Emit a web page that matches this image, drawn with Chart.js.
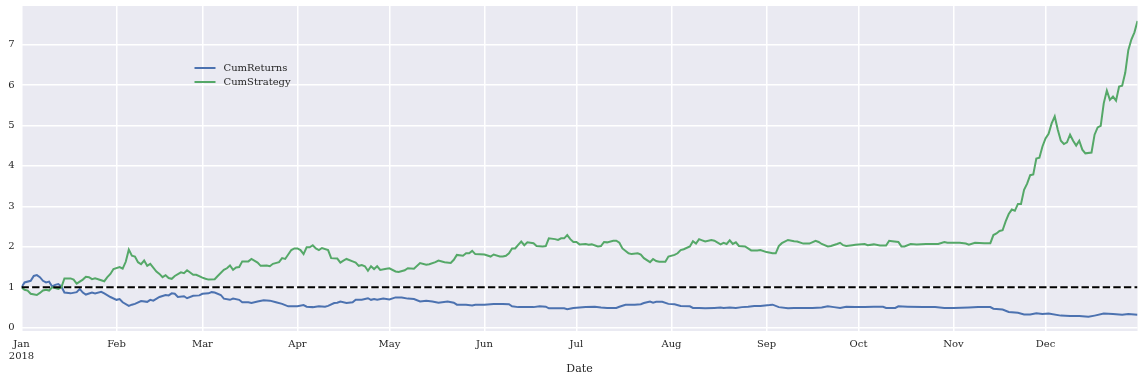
<!DOCTYPE html>
<html>
<head>
<meta charset="utf-8">
<script src="https://cdn.jsdelivr.net/npm/chart.js@4.4.1/dist/chart.umd.min.js"></script>
<style>
  html, body { margin: 0; padding: 0; background: #fff; }
  #countiner { width: 1143px; height: 380px; position: relative; }
</style>
</head>
<body>
<div id="countiner"><canvas id="myChart"></canvas></div>
<script>
'use strict'
// x values are days of 2018, 0 = Jan 1
let monthStarts = [0, 31, 59, 90, 120, 151, 181, 212, 243, 273, 304, 334];
let monthLabels = ['Jan', 'Feb', 'Mar', 'Apr', 'May', 'Jun', 'Jul', 'Aug', 'Sep', 'Oct', 'Nov', 'Dec'];
let yearLabel = '2018';
let yTicks = [0, 1, 2, 3, 4, 5, 6, 7];

let retDays = [0, 1, 3, 4, 5, 6, 7, 8, 9, 10, 11, 12, 13, 14, 16, 18, 19, 20, 21, 23, 24, 26, 27, 29, 31, 32, 33, 35, 36, 37, 39, 41, 42, 43, 45, 47, 48, 49, 50,
  51, 53, 54, 56, 58, 59, 61, 62, 63, 65, 66, 68, 69, 71, 72, 74, 75, 77, 79, 81, 83, 85, 87, 90, 92, 93, 95, 97, 99, 100, 102, 103,
  104, 106, 108, 109, 111, 113, 114, 115, 116, 118, 120, 122, 124, 126, 128, 130, 132, 134, 136, 139, 141, 142, 145, 147, 148, 151, 154, 157,
  159, 160, 162, 164, 167, 169, 171, 172, 175, 177, 178, 180, 182, 184, 187, 189, 191, 194, 195, 197, 200, 202, 203, 205, 206,
  207, 209, 211, 213, 215, 218, 219, 221, 223, 226, 228, 229, 231, 233, 235, 237, 239, 241, 244, 245, 247, 250, 252, 255, 258,
  261, 263, 265, 267, 269, 272, 275, 278, 281, 282, 285, 286, 289, 294, 298, 301, 304, 309,
  312, 316, 317, 320, 322, 325, 327, 329, 331, 333, 335, 339, 342, 345, 348, 350, 353, 356, 359, 361, 364];
let retValues = [1.00, 1.12, 1.16, 1.28, 1.30, 1.25, 1.16, 1.12, 1.14, 1.02, 1.06, 1.08, 1.02, 0.87, 0.85, 0.88, 0.96, 0.87, 0.82, 0.87, 0.85, 0.89, 0.85, 0.76, 0.69, 0.71, 0.63, 0.54, 0.57, 0.59, 0.66, 0.64, 0.69, 0.67, 0.76, 0.81, 0.80, 0.85, 0.84,
  0.76, 0.78, 0.73, 0.79, 0.80, 0.84, 0.85, 0.88, 0.87, 0.81, 0.72, 0.69, 0.72, 0.69, 0.63, 0.63, 0.61, 0.65, 0.68, 0.67, 0.63, 0.59, 0.53, 0.53, 0.56, 0.52, 0.51, 0.53, 0.52, 0.54, 0.61, 0.62,
  0.65, 0.61, 0.63, 0.69, 0.69, 0.73, 0.69, 0.71, 0.69, 0.72, 0.70, 0.75, 0.75, 0.72, 0.71, 0.65, 0.67, 0.65, 0.62, 0.65, 0.62, 0.57, 0.57, 0.55, 0.57, 0.57, 0.59, 0.59,
  0.58, 0.53, 0.51, 0.51, 0.51, 0.53, 0.52, 0.48, 0.48, 0.48, 0.46, 0.49, 0.50, 0.51, 0.52, 0.50, 0.49, 0.49, 0.52, 0.57, 0.57, 0.58, 0.61, 0.65, 0.62,
  0.64, 0.64, 0.59, 0.58, 0.54, 0.53, 0.49, 0.49, 0.48, 0.49, 0.50, 0.49, 0.50, 0.49, 0.51, 0.52, 0.54, 0.54, 0.56, 0.57, 0.51, 0.48, 0.49, 0.49, 0.49,
  0.50, 0.53, 0.51, 0.49, 0.52, 0.51, 0.51, 0.52, 0.52, 0.49, 0.49, 0.53, 0.52, 0.51, 0.51, 0.49, 0.49, 0.50,
  0.51, 0.51, 0.47, 0.45, 0.39, 0.37, 0.33, 0.33, 0.36, 0.34, 0.35, 0.30, 0.29, 0.29, 0.27, 0.30, 0.35, 0.34, 0.32, 0.34, 0.32];

let stratDays = [0, 1, 2, 3, 5, 6, 7, 8, 9, 10, 11, 12, 13, 14, 16, 17, 18, 20, 21, 22, 23, 24, 25, 27, 28, 29, 30, 32, 33, 34, 35, 36, 37, 38, 39, 40, 41, 42, 44, 45, 46, 47, 48, 49, 50,
  52, 53, 54, 56, 57, 59, 60, 61, 63, 64, 66, 67, 68, 69, 70, 71, 72, 74, 75, 77, 78, 80, 81, 82, 84, 85, 86, 88, 89, 90, 91, 92, 93, 94, 95, 96, 97, 98, 100, 101, 103,
  104, 105, 106, 108, 109, 110, 111, 112, 113, 114, 115, 116, 117, 119, 120, 122, 123, 125, 126, 128, 130, 132, 133, 135, 136, 138, 140, 141, 142, 144, 145, 146, 147, 148, 151, 153, 154, 156,
  157, 158, 159, 160, 161, 162, 163, 164, 165, 167, 168, 170, 171, 172, 174, 175, 176, 177, 178, 179, 180, 181, 182, 184, 185, 186, 188, 189, 190, 191, 193, 194, 195, 196, 198, 199, 201, 202, 203, 205, 206,
  207, 208, 210, 211, 213, 214, 215, 216, 218, 219, 220, 221, 222, 223, 225, 226, 228, 229, 230, 231, 232, 233, 234, 236, 238, 240, 241, 243, 245, 246, 247, 248, 250, 252, 253, 255, 257, 259, 260,
  261, 263, 264, 266, 267, 268, 269, 271, 272, 275, 276, 278, 280, 282, 283, 284, 286, 287, 288, 290, 292, 295, 297, 299, 301, 302, 304,
  306, 308, 309, 311, 314, 316, 317, 318, 319, 320, 321, 322, 323, 324, 325, 326, 327, 328, 329, 330, 331, 332, 333, 334, 335, 336, 337, 338, 339, 340,
  341, 342, 343, 344, 345, 346, 347, 349, 350, 351, 352, 353, 354, 355, 356, 357, 358, 359, 360, 361, 362, 363, 364];
let stratValues = [1.00, 0.94, 0.92, 0.84, 0.81, 0.86, 0.92, 0.94, 0.92, 1.00, 0.98, 0.96, 1.00, 1.22, 1.22, 1.19, 1.09, 1.19, 1.26, 1.25, 1.20, 1.22, 1.20, 1.15, 1.25, 1.33, 1.45, 1.50, 1.46, 1.63, 1.93, 1.78, 1.76, 1.62, 1.57, 1.66, 1.53, 1.58, 1.39, 1.33, 1.25, 1.30, 1.23, 1.21, 1.28,
  1.37, 1.35, 1.42, 1.31, 1.31, 1.24, 1.21, 1.19, 1.20, 1.28, 1.43, 1.47, 1.54, 1.43, 1.49, 1.50, 1.64, 1.64, 1.70, 1.61, 1.53, 1.54, 1.52, 1.58, 1.62, 1.72, 1.70, 1.92, 1.96, 1.96, 1.92, 1.82, 1.99, 1.99, 2.04, 1.96, 1.92, 1.97, 1.92, 1.72, 1.71,
  1.61, 1.66, 1.70, 1.64, 1.61, 1.53, 1.55, 1.52, 1.41, 1.52, 1.45, 1.52, 1.43, 1.46, 1.47, 1.39, 1.38, 1.42, 1.47, 1.46, 1.60, 1.56, 1.57, 1.62, 1.66, 1.62, 1.60, 1.68, 1.80, 1.78, 1.84, 1.84, 1.90, 1.82, 1.81, 1.76, 1.81, 1.76,
  1.76, 1.78, 1.84, 1.96, 1.96, 2.05, 2.13, 2.04, 2.11, 2.09, 2.02, 2.01, 2.02, 2.21, 2.19, 2.17, 2.21, 2.21, 2.29, 2.19, 2.12, 2.12, 2.06, 2.07, 2.05, 2.06, 2.01, 2.02, 2.12, 2.11, 2.15, 2.15, 2.10, 1.96, 1.84, 1.82, 1.84, 1.81, 1.72, 1.62, 1.70,
  1.65, 1.63, 1.63, 1.76, 1.80, 1.84, 1.92, 1.94, 2.01, 2.14, 2.08, 2.19, 2.16, 2.13, 2.17, 2.15, 2.06, 2.10, 2.07, 2.16, 2.07, 2.11, 2.02, 2.01, 1.91, 1.91, 1.92, 1.87, 1.84, 1.84, 2.02, 2.09, 2.17, 2.14, 2.13, 2.08, 2.08, 2.15, 2.12,
  2.07, 2.01, 2.02, 2.07, 2.10, 2.04, 2.02, 2.04, 2.05, 2.07, 2.04, 2.06, 2.03, 2.03, 2.15, 2.14, 2.12, 2.01, 2.01, 2.07, 2.06, 2.07, 2.07, 2.07, 2.12, 2.10, 2.10,
  2.10, 2.08, 2.05, 2.10, 2.09, 2.09, 2.29, 2.33, 2.39, 2.41, 2.63, 2.81, 2.92, 2.89, 3.06, 3.06, 3.41, 3.56, 3.77, 3.79, 4.18, 4.20, 4.48, 4.68, 4.79, 5.05, 5.22, 4.89, 4.62, 4.54,
  4.58, 4.77, 4.62, 4.50, 4.62, 4.40, 4.31, 4.33, 4.77, 4.95, 4.99, 5.55, 5.86, 5.63, 5.71, 5.61, 5.96, 5.98, 6.30, 6.86, 7.12, 7.30, 7.58];

let baseDays = [0, 364];
let baseValues = [1, 1];

function topoints(days, vals) {
    return days.map(function (d, i) { return { x: d, y: vals[i] }; });
}

let textColor = '#262626';
let serif = "'DejaVu Serif', serif";

let backPlugin = {
    id: 'backPlugin',
    beforeDraw(chart) {
        let ctx = chart.ctx;
        let a = chart.chartArea;
        ctx.save();
        ctx.fillStyle = '#ffffff';
        ctx.fillRect(0, 0, chart.width, chart.height);
        ctx.fillStyle = '#EAEAF2';
        ctx.fillRect(a.left, a.top, a.right - a.left, a.bottom - a.top);
        ctx.restore();
    }
};

// legend sits inside the axes, no frame
let legendPlugin = {
    id: 'legendPlugin',
    afterDatasetsDraw(chart) {
        let ctx = chart.ctx;
        let x0 = chart.chartArea.left + 173;
        let y = chart.chartArea.top + 62;
        ctx.save();
        ctx.font = '10px ' + serif;
        ctx.textBaseline = 'middle';
        ctx.textAlign = 'left';
        chart.data.datasets.forEach(function (ds) {
            if (!ds.label) return;
            ctx.strokeStyle = ds.borderColor;
            ctx.lineWidth = ds.borderWidth;
            ctx.beginPath();
            ctx.moveTo(x0, y);
            ctx.lineTo(x0 + 21, y);
            ctx.stroke();
            ctx.fillStyle = textColor;
            ctx.fillText(ds.label, x0 + 29, y);
            y += 14;
        });
        ctx.restore();
    }
};

let ctx = document.getElementById('myChart').getContext('2d');
let myChart = new Chart(ctx, {
    type: 'line',
    data: {
        datasets: [{
            label: 'CumReturns',
            data: topoints(retDays, retValues),
            borderColor: '#4C72B0',
            borderWidth: 2,
            pointRadius: 0,
            tension: 0,
            order: 2
        },
        {
            label: 'CumStrategy',
            data: topoints(stratDays, stratValues),
            borderColor: '#55A868',
            borderWidth: 2,
            pointRadius: 0,
            tension: 0,
            order: 1
        },
        {
            label: '',
            data: topoints(baseDays, baseValues),
            borderColor: '#000000',
            borderWidth: 2,
            borderDash: [7.4, 3.2],
            pointRadius: 0,
            order: 0
        }]
    },
    options: {
        responsive: true,
        maintainAspectRatio: false,
        animation: false,
        devicePixelRatio: 1,
        layout: { padding: { left: 0, right: 5.5, top: 6, bottom: 0 } },
        plugins: {
            legend: { display: false },
            tooltip: { enabled: false }
        },
        scales: {
            x: {
                type: 'linear',
                min: 0,
                max: 364,
                afterBuildTicks: function (axis) {
                    axis.ticks = monthStarts.map(function (v) { return { value: v }; });
                },
                afterFit: function (axis) {
                    axis.height = 49;
                    axis.paddingLeft = 0;
                    axis.paddingRight = 0;
                },
                grid: { color: '#ffffff', lineWidth: 1.5, drawTicks: false },
                border: { display: false },
                ticks: {
                    autoSkip: false,
                    maxRotation: 0,
                    padding: 8,
                    color: textColor,
                    font: { family: serif, size: 10, lineHeight: 1.15 },
                    callback: function (value) {
                        let i = monthStarts.indexOf(value);
                        return i === 0 ? [monthLabels[0], yearLabel] : monthLabels[i];
                    }
                },
                title: {
                    display: true,
                    text: 'Date',
                    color: textColor,
                    font: { family: serif, size: 11 },
                    padding: { top: 0, bottom: 4 }
                }
            },
            y: {
                min: -0.08,
                max: 7.95,
                afterBuildTicks: function (axis) {
                    axis.ticks = yTicks.map(function (v) { return { value: v }; });
                },
                afterFit: function (axis) {
                    axis.width = 21.5;
                    axis.paddingTop = 0;
                    axis.paddingBottom = 0;
                },
                grid: { color: '#ffffff', lineWidth: 1.5, drawTicks: false },
                border: { display: false },
                ticks: {
                    padding: 7,
                    color: textColor,
                    font: { family: serif, size: 10 }
                }
            }
        }
    },
    plugins: [backPlugin, legendPlugin]
});
</script>
</body>
</html>
